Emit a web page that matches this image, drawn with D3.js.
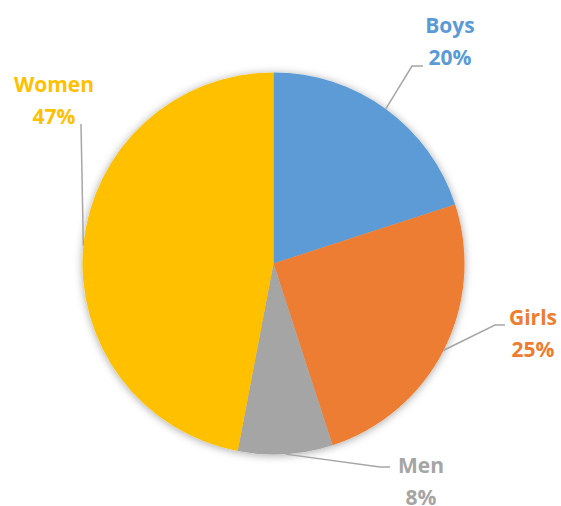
<!DOCTYPE html>
<html>
<head>
<meta charset="utf-8">
<script src="https://cdn.jsdelivr.net/npm/d3@7"></script>
<style>
  html, body { margin: 0; padding: 0; background: #fff; }
  svg { display: block; }
  .lbl { font-family: "Open Sans", sans-serif; font-weight: bold; font-size: 21px; }
</style>
</head>
<body>
<svg width="561" height="506"></svg>
<script>
// data
const categories = ['Boys', 'Girls', 'Men', 'Women'];
const values = [20, 25, 8, 47];
const colors = ['#5B9BD5', '#ED7D31', '#A5A5A5', '#FFC000'];

const width = 561, height = 506;
const cx = 273.5, cy = 263.5, radius = 191;

// label layout: text centre, first baseline, elbow of the leader line, end of the leader line
const labelPos = {
  Boys:  { x: 450, y: 33,  elbow: [412, 66],  end: [423, 66] },
  Girls: { x: 533, y: 325, elbow: [495, 325], end: [505, 325] },
  Men:   { x: 421, y: 473, elbow: [380, 467], end: [390, 467] },
  Women: { x: 54,  y: 92,  elbow: [81, 124],  end: null }
};

const svg = d3.select('svg');

const defs = svg.append('defs');
const filter = defs.append('filter')
  .attr('id', 'shadow')
  .attr('x', '-20%').attr('y', '-20%')
  .attr('width', '140%').attr('height', '140%');
filter.append('feDropShadow')
  .attr('dx', 0).attr('dy', 1)
  .attr('stdDeviation', 4)
  .attr('flood-color', '#000')
  .attr('flood-opacity', 0.35);

const data = categories.map((name, i) => ({ name, value: values[i], color: colors[i] }));

const pieGenerator = d3.pie()
  .value((d) => d.value)
  .sort(null);
const arcData = pieGenerator(data);

const arcGenerator = d3.arc().innerRadius(0).outerRadius(radius);

const g = svg.append('g').attr('transform', `translate(${cx},${cy})`);

g.append('g')
  .attr('filter', 'url(#shadow)')
  .selectAll('path')
  .data(arcData)
  .join('path')
  .attr('d', arcGenerator)
  .style('fill', (d) => d.data.color);

// leader lines start on the rim at each slice's middle angle
const leaders = svg.append('g');
arcData.forEach((d) => {
  const pos = labelPos[d.data.name];
  const mid = (d.startAngle + d.endAngle) / 2;
  const start = [cx + radius * Math.sin(mid), cy - radius * Math.cos(mid)];
  const pts = [start, pos.elbow];
  if (pos.end) pts.push(pos.end);
  leaders.append('path')
    .attr('d', d3.line()(pts))
    .style('fill', 'none')
    .style('stroke', '#A6A6A6')
    .style('stroke-width', 1.5);
});

const labels = svg.append('g');
arcData.forEach((d) => {
  const pos = labelPos[d.data.name];
  const t = labels.append('text')
    .attr('class', 'lbl')
    .attr('text-anchor', 'middle')
    .style('fill', d.data.color);
  t.append('tspan').attr('x', pos.x).attr('y', pos.y).text(d.data.name);
  t.append('tspan').attr('x', pos.x).attr('y', pos.y + 32).text(d.data.value + '%');
});
</script>
</body>
</html>
